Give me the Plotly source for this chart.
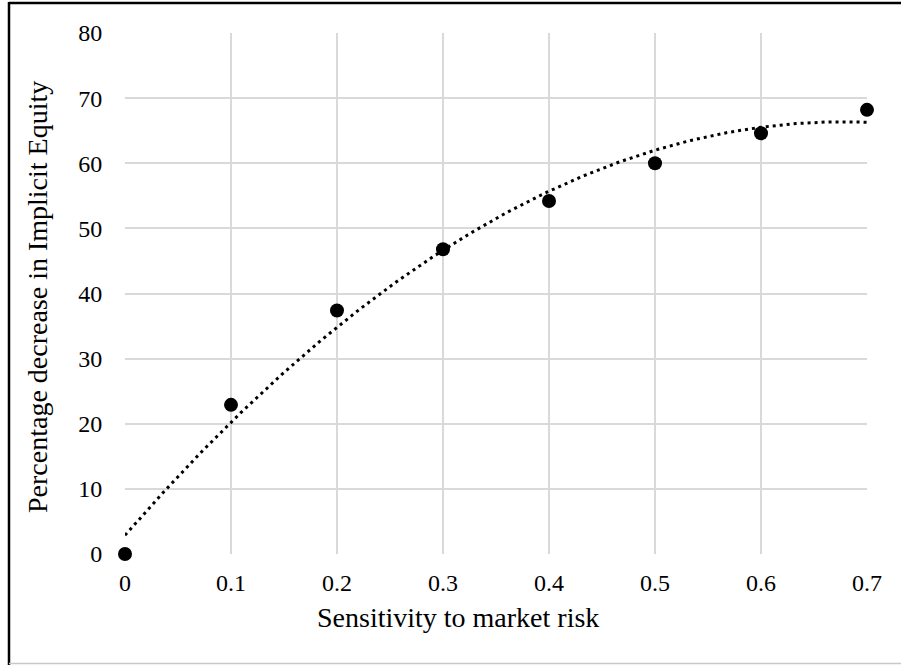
import numpy as np
import plotly.graph_objects as go

sensitivity = [0, 0.1, 0.2, 0.3, 0.4, 0.5, 0.6, 0.7]
pct_decrease = [0, 22.9, 37.4, 46.8, 54.2, 60.0, 64.6, 68.2]
x_ticks = [0, 0.1, 0.2, 0.3, 0.4, 0.5, 0.6, 0.7]
y_ticks = [0, 10, 20, 30, 40, 50, 60, 70, 80]
x_title = "Sensitivity to market risk"
y_title = "Percentage decrease in Implicit Equity"

# polynomial (order 2) trendline, as the original spreadsheet trendline
coef = np.polyfit(sensitivity, pct_decrease, 2)
tx = np.linspace(0, 0.7, 200)
ty = np.polyval(coef, tx)

W, H = 901, 665
L, R, T, B = 125, 34, 33, 111
pw, ph = W - L - R, H - T - B

def px_x(p):
    return (p - L) / pw

def px_y(p):
    return (H - B - p) / ph

FONT = "Liberation Serif, Times New Roman, serif"

fig = go.Figure()
fig.add_trace(go.Scatter(x=tx, y=ty, mode="lines",
                         line=dict(color="black", width=3, dash="3px,4px"),
                         hoverinfo="skip", showlegend=False))
fig.add_trace(go.Scatter(x=sensitivity, y=pct_decrease, mode="markers",
                         marker=dict(color="black", size=14),
                         showlegend=False, cliponaxis=False))

shapes = [
    dict(type="line", xref="paper", yref="paper", x0=px_x(9), x1=px_x(W + 2),
         y0=px_y(3), y1=px_y(3), line=dict(color="black", width=2.5)),
    dict(type="line", xref="paper", yref="paper", x0=px_x(9), x1=px_x(9),
         y0=px_y(2), y1=px_y(H + 2), line=dict(color="black", width=2.5)),
    dict(type="line", xref="paper", yref="paper", x0=px_x(9), x1=px_x(W + 2),
         y0=px_y(663.5), y1=px_y(663.5), line=dict(color="#c8c8c8", width=1.5)),
]

annotations = [
    dict(text=x_title, xref="paper", yref="paper", x=px_x(458), y=px_y(617),
         xanchor="center", yanchor="middle", showarrow=False,
         font=dict(family=FONT, size=28, color="black")),
    dict(text=y_title, xref="paper", yref="paper", x=px_x(37), y=px_y(297),
         xanchor="center", yanchor="middle", showarrow=False, textangle=-90,
         font=dict(family=FONT, size=28, color="black")),
]

fig.update_layout(
    width=W, height=H,
    margin=dict(l=L, r=R, t=T, b=B, autoexpand=False),
    paper_bgcolor="white", plot_bgcolor="white",
    font=dict(family=FONT, size=24, color="black"),
    shapes=shapes, annotations=annotations,
    xaxis=dict(range=[0, 0.7], tickvals=x_ticks, ticktext=[str(v) for v in x_ticks],
               showgrid=True, gridcolor="#d9d9d9", gridwidth=1.5,
               zeroline=False, showline=False, ticks="outside", ticklen=7,
               tickcolor="rgba(0,0,0,0)", automargin=False,
               tickfont=dict(size=24)),
    yaxis=dict(range=[0, 80], tickvals=y_ticks,
               showgrid=True, gridcolor="#d9d9d9", gridwidth=1.5,
               zeroline=False, showline=False, ticks="outside", ticklen=17,
               tickcolor="rgba(0,0,0,0)", automargin=False,
               tickfont=dict(size=24)),
)

fig.write_html("out.html", config={"displayModeBar": False},
               post_script="document.body.style.margin='0';document.body.style.padding='0';")
